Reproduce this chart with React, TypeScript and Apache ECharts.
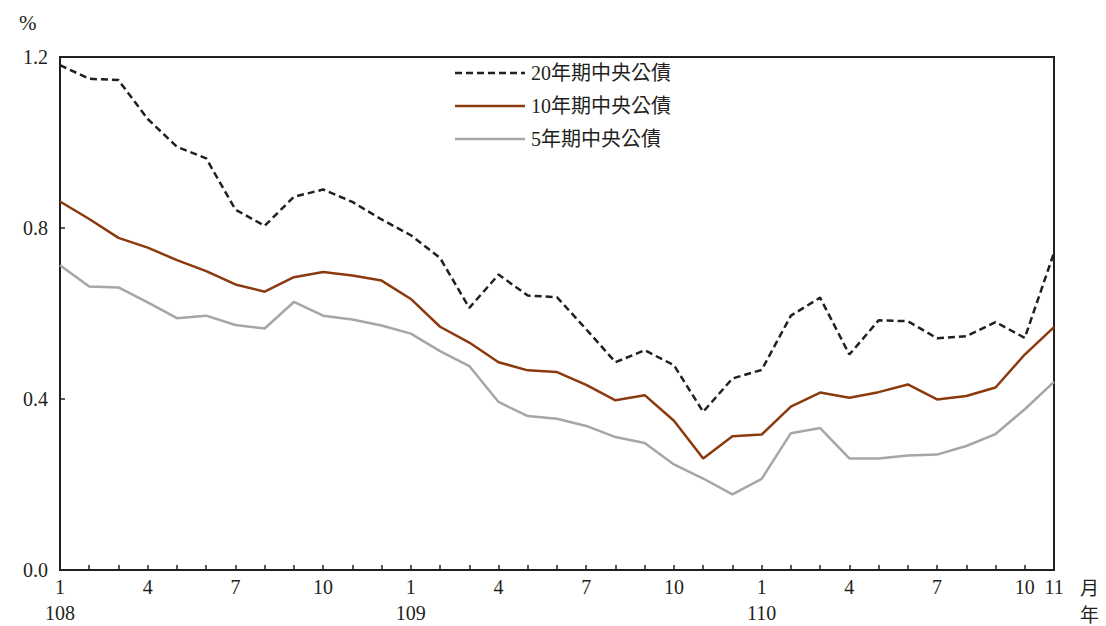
import React, { useEffect, useRef } from "react";
import * as echarts from "echarts";

// Month of each observation (民國 108/1 – 110/11)
const months = [
  1, 2, 3, 4, 5, 6, 7, 8, 9, 10, 11, 12,
  1, 2, 3, 4, 5, 6, 7, 8, 9, 10, 11, 12,
  1, 2, 3, 4, 5, 6, 7, 8, 9, 10, 11,
];
// Year label shown under each January
const years = [
  "108", "", "", "", "", "", "", "", "", "", "", "",
  "109", "", "", "", "", "", "", "", "", "", "", "",
  "110", "", "", "", "", "", "", "", "", "", "",
];

const yieldTwenty = [
  1.181, 1.149, 1.146, 1.055, 0.99, 0.963, 0.843, 0.805, 0.873, 0.89, 0.861, 0.82,
  0.783, 0.73, 0.613, 0.691, 0.642, 0.638, 0.563, 0.486, 0.514, 0.479, 0.37, 0.448,
  0.468, 0.595, 0.637, 0.504, 0.584, 0.582, 0.542, 0.547, 0.58, 0.543, 0.742,
];
const yieldTen = [
  0.862, 0.821, 0.777, 0.754, 0.725, 0.699, 0.668, 0.651, 0.685, 0.697, 0.689, 0.677,
  0.634, 0.569, 0.532, 0.486, 0.467, 0.463, 0.433, 0.397, 0.409, 0.349, 0.261, 0.313,
  0.317, 0.382, 0.415, 0.403, 0.416, 0.434, 0.399, 0.407, 0.427, 0.504, 0.568,
];
const yieldFive = [
  0.713, 0.663, 0.661, 0.626, 0.589, 0.595, 0.573, 0.565, 0.627, 0.595, 0.586, 0.572,
  0.553, 0.512, 0.477, 0.393, 0.36, 0.354, 0.337, 0.311, 0.297, 0.247, 0.214, 0.177,
  0.213, 0.32, 0.332, 0.261, 0.261, 0.268, 0.27, 0.29, 0.318, 0.376, 0.44,
];

const seriesNames = ["20年期中央公債", "10年期中央公債", "5年期中央公債"];
const yTicks = { min: 0, max: 1.2, interval: 0.4 };

const FONT = "Liberation Serif, Noto Sans CJK TC, serif";
const INK = "#231f20";
const BROWN = "#8b3a0e";
const GREY = "#a6a6a6";

const lineStyles = [
  { color: INK, width: 2.5, type: [7, 4] as number[] },
  { color: BROWN, width: 2.5, type: "solid" },
  { color: GREY, width: 2.5, type: "solid" },
];

// Key in the upper middle: a short stroke and the series name per row
function legendGraphics() {
  const x0 = 455;
  const x1 = 525;
  const rowY = [73, 106, 139];
  const out: any[] = [];
  seriesNames.forEach((name, i) => {
    const ls = lineStyles[i];
    out.push({
      type: "line",
      shape: { x1: x0, y1: rowY[i], x2: x1, y2: rowY[i] },
      style: {
        stroke: ls.color,
        lineWidth: 2.5,
        lineDash: Array.isArray(ls.type) ? ls.type : null,
      },
    });
    out.push({
      type: "text",
      x: 531,
      y: rowY[i],
      style: {
        text: name,
        fontFamily: FONT,
        fontSize: 20,
        fill: INK,
        verticalAlign: "middle",
        align: "left",
      },
    });
  });
  return out;
}

export default function App() {
  const ref = useRef<HTMLDivElement>(null);

  useEffect(() => {
    document.body.style.margin = "0";
    const chart = echarts.init(ref.current!, null, { renderer: "svg" });
    const categories = months.map((m, i) => `${years[i] || ""}/${m}`);
    const lastIdx = months.length - 1;

    chart.setOption({
      animation: false,
      textStyle: { fontFamily: FONT, color: INK },
      grid: {
        left: 60,
        right: 52,
        top: 57,
        bottom: 55,
        show: true,
        borderColor: INK,
        borderWidth: 2,
        backgroundColor: "transparent",
      },
      xAxis: {
        type: "category",
        boundaryGap: false,
        data: categories,
        axisLine: { lineStyle: { color: INK, width: 2 } },
        axisTick: {
          inside: true,
          length: 5,
          interval: 0,
          lineStyle: { color: INK, width: 1.5 },
        },
        axisLabel: {
          interval: (idx: number) => months[idx] % 3 === 1 || idx === lastIdx,
          formatter: (_v: string, idx: number) =>
            years[idx] ? `${months[idx]}\n${years[idx]}` : `${months[idx]}`,
          fontFamily: FONT,
          fontSize: 20,
          color: INK,
          lineHeight: 26,
          margin: 4,
        },
        splitLine: { show: false },
      },
      yAxis: {
        type: "value",
        min: yTicks.min,
        max: yTicks.max,
        interval: yTicks.interval,
        axisLine: { show: true, lineStyle: { color: INK, width: 2 } },
        axisTick: { show: true, inside: true, length: 5, lineStyle: { color: INK, width: 1.5 } },
        axisLabel: {
          formatter: (v: number) => v.toFixed(1),
          fontFamily: FONT,
          fontSize: 20,
          color: INK,
          margin: 12,
        },
        splitLine: { show: false },
      },
      graphic: [
        ...legendGraphics(),
        { type: "text", left: 19, top: 12, style: { text: "%", fontFamily: FONT, fontSize: 21, fill: INK } },
        { type: "text", left: 1080, top: 579, style: { text: "月", fontFamily: FONT, fontSize: 19, fill: INK } },
        { type: "text", left: 1080, top: 606, style: { text: "年", fontFamily: FONT, fontSize: 19, fill: INK } },
      ],
      series: [
        {
          name: seriesNames[0],
          type: "line",
          data: yieldTwenty,
          symbol: "none",
          lineStyle: lineStyles[0],
          itemStyle: { color: INK },
        },
        {
          name: seriesNames[1],
          type: "line",
          data: yieldTen,
          symbol: "none",
          lineStyle: lineStyles[1],
          itemStyle: { color: BROWN },
        },
        {
          name: seriesNames[2],
          type: "line",
          data: yieldFive,
          symbol: "none",
          lineStyle: lineStyles[2],
          itemStyle: { color: GREY },
        },
      ],
    });

    return () => chart.dispose();
  }, []);

  return <div ref={ref} style={{ width: 1106, height: 626 }} />;
}
